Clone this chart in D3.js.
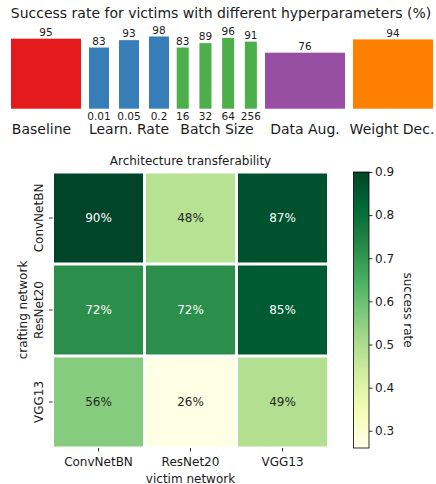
<!DOCTYPE html>
<html>
<head>
<meta charset="utf-8">
<script src="https://cdn.jsdelivr.net/npm/d3@7"></script>
<style>
  html, body { margin: 0; padding: 0; background: #fff; }
  svg { display: block; font-family: "DejaVu Sans", sans-serif; }
</style>
</head>
<body>
<svg id="chart" width="436" height="484"></svg>
<script>
// ---------------- DATA ----------------
const barTitle = "Success rate for victims with different hyperparameters (%)";
const groupNames = ["Baseline", "Learn. Rate", "Batch Size", "Data Aug.", "Weight Dec."];
const baselineValues = [95];
const lrTicks = ["0.01", "0.05", "0.2"];
const lrValues = [83, 93, 98];
const bsTicks = ["16", "32", "64", "256"];
const bsValues = [83, 89, 96, 91];
const augValues = [76];
const wdValues = [94];
const groupColors = ["#e41a1c", "#377eb8", "#4daf4a", "#984ea3", "#ff7f00"];

const heatTitle = "Architecture transferability";
const victimNets = ["ConvNetBN", "ResNet20", "VGG13"];
const craftNets = ["ConvNetBN", "ResNet20", "VGG13"];
const successRates = [
  [0.90, 0.48, 0.87],
  [0.72, 0.72, 0.85],
  [0.56, 0.26, 0.49]
];
const cbarTicks = [0.3, 0.4, 0.5, 0.6, 0.7, 0.8, 0.9];
const ylgnColors = ["#ffffe5", "#f7fcb9", "#d9f0a3", "#addd8e", "#78c679", "#41ab5d", "#238443", "#006837", "#004529"];

// ---------------- LAYOUT ----------------
const svg = d3.select("#chart");
const barBottom = 108.7, barTop100 = 35.0;
const y = d3.scaleLinear().domain([0, 100]).range([barBottom, barTop100]);

// panel extents [x0, x1], padding for the band scale
const panels = [
  { ticks: [""], values: baselineValues, range: [11, 81], pi: 0, po: 0, label: 41.5, showTicks: false },
  { ticks: lrTicks, values: lrValues, range: [84, 174], pi: 1/3, po: 1/6, label: 129, showTicks: true },
  { ticks: bsTicks, values: bsValues, range: [171.4, 262.2], pi: 0.47, po: 0.235, label: 217, showTicks: true },
  { ticks: [""], values: augValues, range: [265, 345], pi: 0, po: 0, label: 305, showTicks: false },
  { ticks: [""], values: wdValues, range: [353, 433], pi: 0, po: 0, label: 392, showTicks: false }
];

svg.append("text")
  .attr("x", 221).attr("y", 17.5)
  .attr("text-anchor", "middle")
  .style("font-size", "14px")
  .attr("fill", "#1a1a1a")
  .text(barTitle);

panels.forEach((p, gi) => {
  const x = d3.scaleBand().domain(p.ticks.map((t, i) => i)).range(p.range)
    .paddingInner(p.pi).paddingOuter(p.po);
  const g = svg.append("g");
  const data = p.values.map((v, i) => ({ v, i, t: p.ticks[i] }));
  g.selectAll("rect").data(data).join("rect")
    .attr("x", d => x(d.i))
    .attr("width", x.bandwidth())
    .attr("y", d => y(d.v))
    .attr("height", d => y(0) - y(d.v))
    .attr("fill", groupColors[gi]);
  g.selectAll("text.val").data(data).join("text")
    .attr("class", "val")
    .attr("x", d => x(d.i) + x.bandwidth() / 2)
    .attr("y", d => y(d.v) - 2.8)
    .attr("text-anchor", "middle")
    .style("font-size", "10.5px")
    .attr("fill", "#1a1a1a")
    .text(d => d.v);
  if (p.showTicks) {
    g.selectAll("text.tick").data(data).join("text")
      .attr("class", "tick")
      .attr("x", d => x(d.i) + x.bandwidth() / 2)
      .attr("y", 120)
      .attr("text-anchor", "middle")
      .style("font-size", "10.5px")
      .attr("fill", "#1a1a1a")
      .text(d => d.t);
  }
  svg.append("text")
    .attr("x", p.label).attr("y", 134)
    .attr("text-anchor", "middle")
    .style("font-size", "14px")
    .attr("fill", "#1a1a1a")
    .text(groupNames[gi]);
});

// ---------------- HEATMAP ----------------
const hx = d3.scaleBand().domain(victimNets).range([52.5, 328.5]);
const hy = d3.scaleBand().domain(craftNets).range([172, 448]);
const vmin = d3.min(successRates.flat()), vmax = d3.max(successRates.flat());
const color = d3.scaleLinear()
  .domain(ylgnColors.map((c, i) => vmin + (vmax - vmin) * i / (ylgnColors.length - 1)))
  .range(ylgnColors)
  .interpolate(d3.interpolateRgb)
  .clamp(true);

const cells = [];
craftNets.forEach((r, ri) => victimNets.forEach((c, ci) => cells.push({ r, c, v: successRates[ri][ci] })));

const hg = svg.append("g");
hg.selectAll("rect").data(cells).join("rect")
  .attr("x", d => hx(d.c) + 1.5)
  .attr("y", d => hy(d.r) + 1.5)
  .attr("width", hx.bandwidth() - 3)
  .attr("height", hy.bandwidth() - 3)
  .attr("fill", d => color(d.v));

function lum(c) {
  const rgb = d3.rgb(c);
  const f = v => { v /= 255; return v <= 0.03928 ? v / 12.92 : Math.pow((v + 0.055) / 1.055, 2.4); };
  return 0.2126 * f(rgb.r) + 0.7152 * f(rgb.g) + 0.0722 * f(rgb.b);
}
hg.selectAll("text").data(cells).join("text")
  .attr("x", d => hx(d.c) + hx.bandwidth() / 2)
  .attr("y", d => hy(d.r) + hy.bandwidth() / 2)
  .attr("dy", "0.36em")
  .attr("text-anchor", "middle")
  .style("font-size", "12px")
  .attr("fill", d => lum(color(d.v)) < 0.408 ? "#ffffff" : "#262626")
  .text(d => Math.round(d.v * 100) + "%");

svg.append("text")
  .attr("x", 190.5).attr("y", 164.5)
  .attr("text-anchor", "middle")
  .style("font-size", "12px").attr("fill", "#1a1a1a")
  .text(heatTitle);

// x axis
const xAxisG = svg.append("g");
victimNets.forEach(n => {
  const cx = hx(n) + hx.bandwidth() / 2;
  xAxisG.append("line").attr("x1", cx).attr("x2", cx).attr("y1", 448).attr("y2", 451.5)
    .attr("stroke", "#000").attr("stroke-width", 0.8);
  xAxisG.append("text").attr("x", cx).attr("y", 466)
    .attr("text-anchor", "middle").style("font-size", "12px").attr("fill", "#1a1a1a").text(n);
});
svg.append("text").attr("x", 190.5).attr("y", 482.5)
  .attr("text-anchor", "middle").style("font-size", "12px").attr("fill", "#1a1a1a")
  .text("victim network");

// y axis
const yAxisG = svg.append("g");
craftNets.forEach(n => {
  const cy = hy(n) + hy.bandwidth() / 2;
  yAxisG.append("line").attr("x1", 49).attr("x2", 52.5).attr("y1", cy).attr("y2", cy)
    .attr("stroke", "#000").attr("stroke-width", 0.8);
  yAxisG.append("text").attr("transform", `translate(42.5,${cy}) rotate(-90)`)
    .attr("text-anchor", "middle").style("font-size", "12px").attr("fill", "#1a1a1a").text(n);
});
svg.append("text").attr("transform", "translate(27,310) rotate(-90)")
  .attr("text-anchor", "middle").style("font-size", "12px").attr("fill", "#1a1a1a")
  .text("crafting network");

// ---------------- COLORBAR ----------------
const cbX0 = 353.5, cbX1 = 369;
const cy = d3.scaleLinear().domain([vmin, vmax]).range([448, 172]);
const defs = svg.append("defs");
const grad = defs.append("linearGradient").attr("id", "cbgrad")
  .attr("x1", 0).attr("y1", 1).attr("x2", 0).attr("y2", 0);
d3.range(0, 1.0001, 0.02).forEach(t => {
  grad.append("stop").attr("offset", t).attr("stop-color", color(vmin + t * (vmax - vmin)));
});
svg.append("rect").attr("x", cbX0).attr("y", cy(vmax)).attr("width", cbX1 - cbX0)
  .attr("height", cy(vmin) - cy(vmax)).attr("fill", "url(#cbgrad)")
  .attr("stroke", "#000").attr("stroke-width", 0.8);
const cbAxis = d3.axisRight(cy).tickValues(cbarTicks).tickSize(3.5).tickPadding(2.5).tickFormat(d3.format(".1f"));
const cbg = svg.append("g").attr("transform", `translate(${cbX1},0)`).call(cbAxis);
cbg.select(".domain").remove();
cbg.selectAll(".tick line").attr("stroke", "#000").attr("stroke-width", 0.8);
cbg.selectAll(".tick text").style("font-size", "12px").attr("fill", "#1a1a1a")
  .style("font-family", "DejaVu Sans, sans-serif");
svg.append("text").attr("transform", "translate(403.5,310) rotate(90)")
  .attr("text-anchor", "middle").style("font-size", "12px").attr("fill", "#1a1a1a")
  .text("success rate");
</script>
</body>
</html>
